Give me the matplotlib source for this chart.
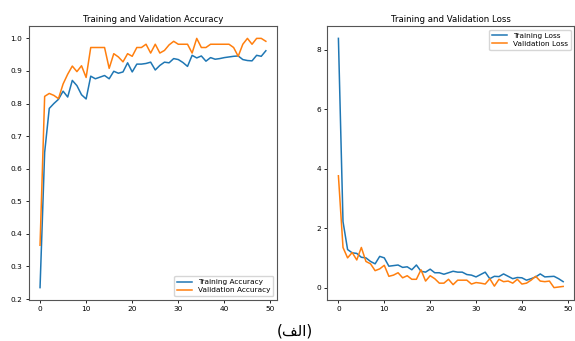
import matplotlib
matplotlib.use("Agg")
import matplotlib.pyplot as plt
import numpy as np

# Accuracy history (50 epochs)
train_acc = [0.235, 0.65, 0.785, 0.80, 0.813, 0.838, 0.82, 0.871, 0.855, 0.827,
             0.814, 0.884, 0.876, 0.881, 0.886, 0.876, 0.899, 0.893, 0.897, 0.925,
             0.897, 0.921, 0.921, 0.923, 0.927, 0.903, 0.917, 0.927, 0.925, 0.938,
             0.935, 0.926, 0.914, 0.948, 0.940, 0.946, 0.930, 0.941, 0.936, 0.938,
             0.941, 0.943, 0.945, 0.946, 0.935, 0.932, 0.931, 0.948, 0.945, 0.962]
val_acc = [0.365, 0.822, 0.831, 0.825, 0.815, 0.86, 0.89, 0.915, 0.898, 0.916,
           0.88, 0.972, 0.972, 0.972, 0.972, 0.908, 0.953, 0.943, 0.928, 0.953,
           0.945, 0.972, 0.972, 0.982, 0.955, 0.982, 0.955, 0.963, 0.98, 0.991,
           0.982, 0.982, 0.982, 0.955, 1.0, 0.972, 0.972, 0.982, 0.982, 0.982,
           0.982, 0.982, 0.972, 0.945, 0.982, 1.0, 0.982, 1.0, 1.0, 0.991]

# Loss history (50 epochs)
train_loss = [8.38, 2.22, 1.28, 1.17, 1.15, 1.02, 1.0, 0.88, 0.8, 1.05,
              1.0, 0.72, 0.74, 0.76, 0.68, 0.7, 0.6, 0.76, 0.55, 0.52,
              0.62, 0.5, 0.5, 0.45, 0.5, 0.55, 0.52, 0.52, 0.44, 0.42,
              0.36, 0.44, 0.52, 0.3, 0.38, 0.37, 0.46, 0.38, 0.3, 0.34,
              0.33, 0.25, 0.3, 0.36, 0.46, 0.36, 0.37, 0.38, 0.3, 0.2]
val_loss = [3.76, 1.35, 1.0, 1.18, 0.93, 1.35, 0.88, 0.8, 0.57, 0.63,
            0.75, 0.38, 0.42, 0.5, 0.33, 0.4, 0.28, 0.28, 0.6, 0.22,
            0.4, 0.3, 0.15, 0.15, 0.28, 0.1, 0.25, 0.25, 0.25, 0.12,
            0.17, 0.15, 0.12, 0.3, 0.05, 0.28, 0.2, 0.22, 0.15, 0.28,
            0.12, 0.15, 0.25, 0.38, 0.22, 0.2, 0.22, 0.0, 0.02, 0.04]

epochs = np.arange(len(train_acc))

# caption "(الف)" in visual order with presentation forms
caption = "(\uFED2\uFEDF\uFE8D)"

fig = plt.figure(figsize=(5.75, 3.41), dpi=100)
ax1 = fig.add_axes([0.050, 0.120, 0.432, 0.804])
ax2 = fig.add_axes([0.569, 0.120, 0.430, 0.804])

ax1.plot(epochs, train_acc, color="#1f77b4", lw=1.1, label="Training Accuracy")
ax1.plot(epochs, val_acc, color="#ff7f0e", lw=1.1, label="Validation Accuracy")
ax1.set_title("Training and Validation Accuracy", fontsize=6.2, pad=3)
ax1.legend(loc="lower right", fontsize=5.3, handlelength=2.0, borderpad=0.4,
           labelspacing=0.3)

ax2.plot(epochs, train_loss, color="#1f77b4", lw=1.1, label="Training Loss")
ax2.plot(epochs, val_loss, color="#ff7f0e", lw=1.1, label="Validation Loss")
ax2.set_title("Training and Validation Loss", fontsize=6.2, pad=3)
ax2.legend(loc="upper right", fontsize=5.3, handlelength=2.0, borderpad=0.4,
           labelspacing=0.3)

for ax in (ax1, ax2):
    ax.tick_params(labelsize=5.3, length=2.5, width=0.6, pad=2)
    for sp in ax.spines.values():
        sp.set_linewidth(0.8)
        sp.set_color("#555555")

fig.text(0.512, 0.008, caption, ha="center", va="bottom", fontsize=11,
         family=["DejaVu Sans"])

fig.savefig("out.png", dpi=100)
